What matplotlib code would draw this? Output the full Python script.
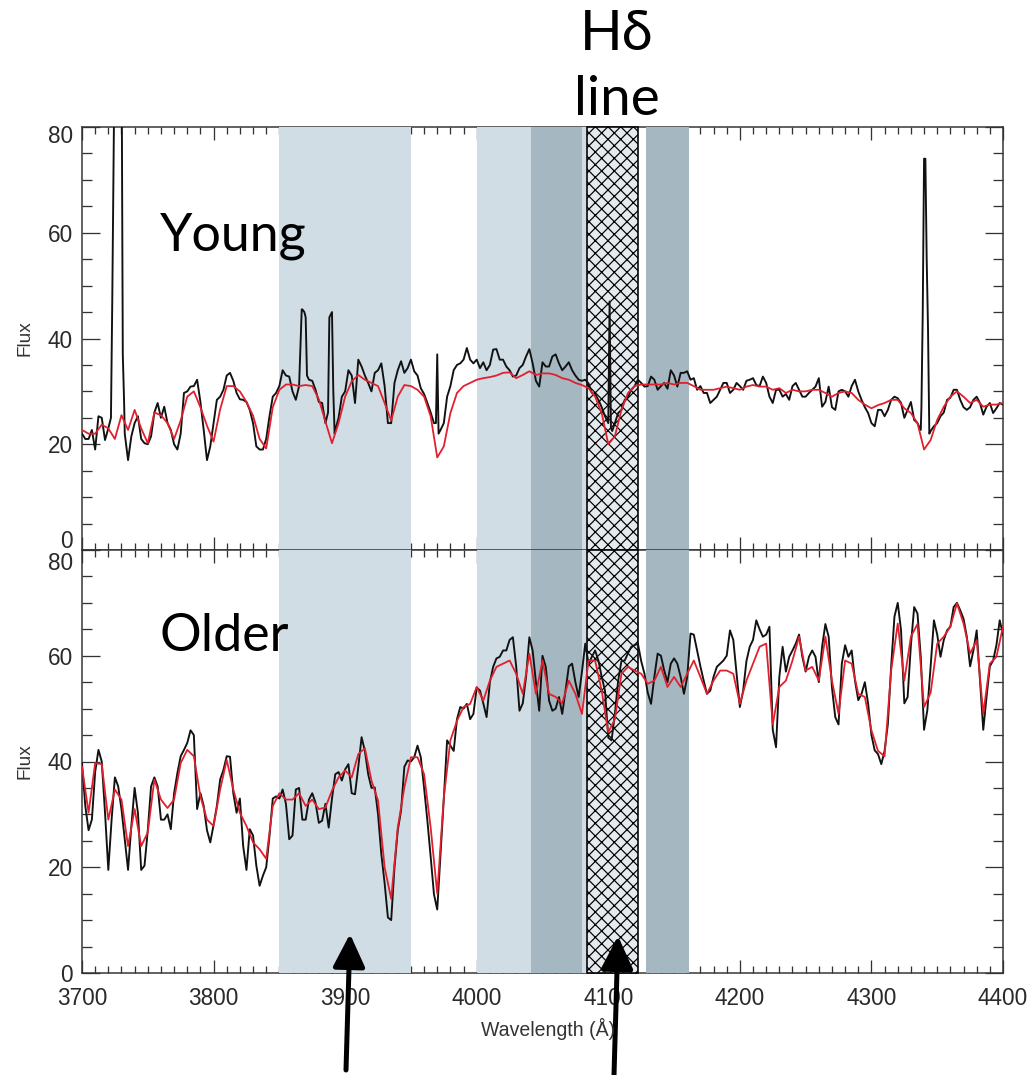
import numpy as np
import matplotlib
matplotlib.use("Agg")
import matplotlib.pyplot as plt
import matplotlib.transforms as mtransforms
from matplotlib.patches import Rectangle
from matplotlib.ticker import MultipleLocator

DPI = 76
W, H = 1029, 1075
PT = 72.0 / DPI  # pixels -> points

# ---------------- data ----------------
wave = np.arange(3700, 4401, 5)          # main sampling grid (Å)
wave_mid = np.arange(3702.5, 4400, 5)    # in-between samples of the observed spectra

young_obs = [
    22, 21, 19, 25, 23, 100, 100, 17, 24, 21,
    20, 26, 25, 24, 20, 22, 30, 31, 28, 17,
    24, 29, 33, 32, 28.5, 28, 24, 19, 21, 29,
    31, 33, 30, 31, 44, 32, 28, 24, 45, 25,
    30, 33, 36, 33, 30, 34, 31, 24, 34, 33.5,
    36, 33, 29.5, 26, 37, 24, 31, 35, 36, 36,
    36, 35.5, 35, 38, 36, 34, 33, 35, 38, 32,
    35.5, 34.7, 37, 34, 35.5, 33, 32, 31.5, 29.5, 27,
    24, 24, 26.5, 29, 31, 31.6, 31, 32.2, 31, 30.5,
    33, 33.5, 33.8, 32.5, 31, 29.7, 28.4, 30.3, 31.6, 30.3,
    31, 32, 32.5, 31, 31.6, 27.8, 30.3, 29.5, 31, 30.3,
    29, 30.3, 32.5, 28, 27, 30, 30, 31, 30, 27,
    24, 26.5, 25.3, 28.4, 28.7, 25, 28, 24, 74, 22.5,
    24, 26, 28.8, 30.3, 27, 27, 29, 25.6, 27.8, 26.8,
    27.5]

young_obs_mid = [
    21, 22.7, 25.3, 20.8, 36, 100, 22, 21.5, 25.3, 20.2,
    21.5, 27.8, 27.1, 22.7, 19, 29.7, 30.9, 32.2, 22.7, 19.6,
    28.4, 30.3, 33.5, 29.7, 28.4, 26.5, 19.6, 19, 25.3, 29.7,
    34, 32.8, 28.4, 45.5, 32.2, 30.3, 27.8, 35, 22.7, 29,
    34, 27.8, 34.7, 31.6, 33.5, 35.3, 24, 31.6, 35.7, 34.4,
    33.8, 30.6, 27.8, 24, 22.7, 29, 34, 35.3, 38.2, 35.3,
    34.4, 34, 37.9, 36, 34.7, 32.8, 34.4, 36.6, 35.3, 30.9,
    34.7, 36.6, 35.3, 34.7, 34, 32.2, 32.2, 29.7, 28.4, 25.3,
    22.8, 25.9, 28.4, 30.3, 32.2, 30.9, 32.8, 30.3, 31.6, 34,
    30.9, 33.5, 32.2, 30.3, 29.7, 27.8, 29, 31.6, 29.7, 31.6,
    30.3, 32.2, 31.2, 32.8, 29, 30.3, 29, 28.4, 31.6, 29,
    29.7, 30.9, 27.1, 30.9, 26.5, 30.3, 29, 32.2, 28.4, 25.9,
    23.4, 26.5, 26.5, 29, 27.8, 26.5, 24.6, 22.7, 48, 23.4,
    25.3, 28.4, 30.3, 28.4, 26.5, 28.4, 27.8, 27.1, 25.9, 27.8]

# narrow emission-line samples of the young spectrum
young_line_wave = [3722, 3723, 3731, 3732, 3866, 3867, 3869, 3871, 3887, 3888,
                   3891, 3892, 3969, 3971, 4101, 4102, 4103, 4338, 4339, 4341,
                   4342, 4343, 4344]
young_line_flux = [25, 47, 37, 28, 38, 45.5, 45, 33, 26, 44,
                   30, 22, 24, 22, 47, 23, 22.5, 27, 45, 74,
                   55, 42, 22]

young_model = [
    22.7, 22, 22, 23.7, 23, 21, 25.5, 22.7, 26.5, 23,
    20.2, 26, 25.5, 24, 21, 24.5, 29, 30, 27, 23.5,
    20.5, 26.6, 31, 31, 30, 28, 25.4, 21, 19.2, 27,
    30.3, 31.3, 31.3, 31, 31.2, 31, 28.5, 24.3, 20.2, 24,
    29, 31.9, 33.1, 32.2, 31.6, 31, 27.8, 24.5, 29, 31.2,
    31, 30.3, 29, 25.3, 17.5, 19.6, 25.9, 29.7, 31, 31.6,
    32.2, 32.5, 32.7, 33, 33.5, 33.6, 32.5, 33.1, 33.8, 33.1,
    33.4, 33.4, 33.1, 32.5, 32.2, 31.6, 31.2, 30.6, 29, 25.9,
    20, 21.5, 26.5, 29.7, 31, 31.3, 31.3, 31.3, 31.3, 31.6,
    31.3, 31.6, 31.6, 31, 30.3, 30.3, 30.3, 30.6, 30.9, 30.6,
    30.3, 30.9, 31.2, 30.9, 30.9, 30.3, 30.6, 29.7, 30.3, 30,
    30, 30.3, 30.3, 29.7, 29, 29.7, 30, 29.7, 28.4, 27.5,
    26.8, 27.4, 27.8, 28.4, 28.4, 26.8, 25.9, 24, 19, 20.8,
    24.6, 27.1, 29, 30, 29, 27.8, 28.4, 27.1, 27.5, 27.5,
    27.8]

older_obs = [
    39.7, 27, 38, 40, 19.5, 37, 31, 19.5, 35, 19.5,
    27, 37, 29, 30, 34, 41, 43.5, 45, 34, 27,
    28, 36.6, 41, 34, 33, 19.5, 26, 16.5, 20, 33,
    33, 32, 26, 35, 29, 34, 28.4, 32, 33, 38,
    38.5, 34, 39, 42, 35, 30, 17, 10, 27, 39,
    40, 43, 35, 22, 12, 33, 43, 48, 50, 48,
    54, 51, 55, 59.5, 61, 63, 58, 51, 63.5, 55,
    60, 51.5, 50, 49, 58, 55, 57, 58.5, 61, 56,
    44.5, 49, 59, 60.5, 62, 59, 53, 56, 60, 55,
    59.5, 56, 56, 64, 58, 52.8, 56, 58.5, 60, 63,
    50.3, 59, 63, 65, 64, 46, 56, 57, 61, 64,
    57, 61, 55, 66, 54, 47, 62, 61, 51.6, 55,
    45, 41.4, 42, 58, 70, 51, 62, 68, 46, 58,
    64, 63, 65.5, 70, 67, 58, 64.8, 46, 58, 62,
    64]

older_obs_mid = [
    31.6, 29, 42.2, 30.3, 29, 35.3, 25.3, 27.8, 30.3, 20.3,
    35.3, 35.3, 29, 27.2, 37.8, 42.2, 45.9, 31, 31.6, 24.7,
    31.6, 38.4, 40.9, 30.3, 24, 27.2, 20.3, 18.4, 25.9, 33.4,
    34.7, 25.3, 34.7, 29, 32.8, 32.2, 28.8, 27.5, 37.6, 36.4,
    39.5, 33.8, 44.6, 37.6, 35.1, 22.5, 10.5, 20, 30.7, 40.2,
    40.8, 40.8, 28.8, 14.9, 22.5, 44, 42, 50.3, 50.9, 49,
    53.4, 48.4, 57.9, 59.8, 61, 63.5, 49.6, 56, 61, 49.6,
    57.9, 49.6, 52.2, 53.4, 58.5, 52.2, 62.3, 59.8, 59.1, 53.4,
    44, 55.3, 59.1, 61.7, 62.3, 56.6, 50.9, 60.4, 57.2, 58.5,
    58.5, 52.8, 64.2, 61, 55.3, 53.4, 57.9, 59.1, 64.8, 56.6,
    53.4, 61.7, 66.7, 63.6, 65.5, 42.7, 61.7, 59.8, 62.3, 59.8,
    59.8, 59.8, 61.7, 63.6, 48.4, 58.5, 59.8, 55.3, 52.8, 50.9,
    42.1, 39.5, 47.1, 67.4, 64.8, 52.2, 69.2, 59.8, 49.7, 66.7,
    59.8, 64.8, 69.2, 68.6, 63.6, 61, 55.3, 52.2, 59.1, 66.7]

older_model = [
    39, 30.3, 39.7, 39.5, 29, 34.7, 32.8, 24, 31, 24,
    26.6, 36.6, 32.8, 31.2, 32.8, 39.7, 42.2, 41, 33.4, 29,
    27.8, 34.7, 40.3, 34.7, 30.3, 27.8, 24.7, 23.4, 21.6, 31.6,
    34, 32.8, 32.8, 34, 31.6, 32.8, 31, 31.3, 34.5, 37,
    38.3, 37, 41.4, 42.5, 36.4, 32.6, 20, 14, 27.5, 35.1,
    40.8, 40.8, 37.6, 27.5, 15, 33.2, 44, 47.7, 50.3, 50.9,
    54.1, 51.5, 55.3, 57.9, 58.5, 59.1, 56.6, 52.8, 60.4, 52.8,
    59.1, 52.8, 52.2, 51, 55.3, 52.8, 49, 59.1, 59.1, 53.4,
    45.5, 48, 56.6, 57.9, 57.2, 56.6, 54.7, 55.3, 57.9, 54.1,
    56, 54.1, 56.6, 59.1, 56, 52.8, 55.3, 57.2, 57.2, 56.6,
    50.9, 55.3, 58.5, 61.7, 62.3, 47, 54.1, 55.3, 59.1, 63.6,
    57.2, 57.9, 55.3, 63.6, 55.3, 49, 59.1, 58.5, 52.8, 52.2,
    45.9, 42, 41, 57.2, 66.1, 55.3, 63.6, 66, 50.3, 53,
    62.3, 63.6, 65.5, 69.9, 66.1, 60.4, 62.9, 49, 58.5, 59.8,
    65.5]

light_bands = [(3850.0, 3950.0), (4000.0, 4100.0)]
dark_bands = [(4041.6, 4079.75), (4128.5, 4161.0)]
hatch_band = (4083.5, 4122.25)

panel_labels = ["Young", "Older"]
x_ticks = [3700, 3800, 3900, 4000, 4100, 4200, 4300, 4400]
y_ticks = [0, 20, 40, 60, 80]


def merge(parts):
    w = np.concatenate([np.asarray(p[0], float) for p in parts])
    f = np.concatenate([np.asarray(p[1], float) for p in parts])
    o = np.argsort(w, kind="stable")
    return w[o], f[o]


yw, yf = merge([(wave, young_obs), (wave_mid, young_obs_mid),
                (young_line_wave, young_line_flux)])
ow, of = merge([(wave, older_obs), (wave_mid, older_obs_mid)])

# ---------------- figure ----------------
LIGHT = "#d0dde5"
DARK = "#a5b7c1"
HATCH_FACE = "#e4eaee"
SPINE = "#333333"
TXT = ["Lato", "DejaVu Sans"]
TICKFONT = ["Liberation Sans", "DejaVu Sans"]
plt.rcParams["hatch.linewidth"] = 1.2 * PT
plt.rcParams["hatch.color"] = "black"

fig = plt.figure(figsize=(W / DPI, H / DPI), dpi=DPI)
fig.patch.set_facecolor("white")
axT = fig.add_axes([82 / W, 1 - 550 / H, 921 / W, 423 / H])
axB = fig.add_axes([82 / W, 1 - 973 / H, 921 / W, 423 / H])

series = [(axT, yw, yf, wave, young_model), (axB, ow, of, wave, older_model)]
for ax, wx, fx, wm, fm in series:
    ax.set_xlim(3700, 4400)
    ax.set_ylim(0, 80)
    for a, b in light_bands:
        ax.axvspan(a, b, color=LIGHT, lw=0, zorder=2.6)
    for a, b in dark_bands:
        ax.axvspan(a, b, color=DARK, lw=0, zorder=2.65)
    r = Rectangle((hatch_band[0], 0), hatch_band[1] - hatch_band[0], 1,
                  transform=ax.get_xaxis_transform(), facecolor=HATCH_FACE,
                  edgecolor="black", hatch="xx", lw=1.6 * PT, zorder=2.7,
                  clip_on=False)
    ax.add_patch(r)
    ax.plot(wx, fx, color="#111111", lw=1.9 * PT, zorder=3)
    ax.plot(wm, fm, color="#e0202c", lw=1.8 * PT, zorder=3.1)

    ax.xaxis.set_major_locator(MultipleLocator(100))
    ax.xaxis.set_minor_locator(MultipleLocator(10))
    ax.set_yticks(y_ticks)
    ax.yaxis.set_minor_locator(MultipleLocator(5))
    ax.tick_params(which="both", direction="in", top=True, right=True,
                   color=SPINE, width=1.3 * PT, labelcolor="#2a2a2a")
    ax.tick_params(axis="x", which="major", length=13 * PT, pad=14 * PT,
                   labelsize=22.5 * PT)
    ax.tick_params(axis="x", which="minor", length=7 * PT)
    ax.tick_params(axis="y", which="major", length=18 * PT, pad=9 * PT,
                   labelsize=22.5 * PT)
    ax.tick_params(axis="y", which="minor", length=10 * PT)
    for lab in ax.get_xticklabels() + ax.get_yticklabels():
        lab.set_family(TICKFONT)
    for s in ax.spines.values():
        s.set_color(SPINE)
        s.set_linewidth(1.5 * PT)
    ax.set_ylabel("Flux", fontsize=19 * PT, family=TICKFONT, color="#333333")
    ax.yaxis.set_label_coords(-0.053, 0.5)

axT.tick_params(axis="x", labelbottom=False)
axB.set_xticks(x_ticks)


# nudge the crowded "0" / "80" labels at the shared edge, as in the original
def shift_label(ax, idx, dy_px):
    lab = ax.yaxis.get_major_ticks()[idx].label1
    off = mtransforms.ScaledTranslation(0, dy_px / DPI, fig.dpi_scale_trans)
    lab.set_transform(lab.get_transform() + off)


shift_label(axT, 0, 11)
shift_label(axT, 4, -7)
shift_label(axB, 4, -11)

fig.text(548 / W, 1 - 1029 / H, "Wavelength (Å)", ha="center", va="center",
         fontsize=19.5 * PT, family=TICKFONT, color="#333333")

for lab, ybase in zip(panel_labels, [250, 651]):
    fig.text(160 / W, 1 - ybase / H, lab, ha="left", va="baseline",
             fontsize=52 * PT, family=TXT, color="black")
fig.text(617 / W, 1 - 50 / H, "Hδ", ha="center", va="baseline",
         fontsize=56 * PT, family=TXT)
fig.text(617 / W, 1 - 115 / H, "line", ha="center", va="baseline",
         fontsize=55 * PT, family=TXT)

for (x0, y0), (x1, y1) in [((346, 1070), (350, 934)), ((614, 1075), (618, 936))]:
    axB.annotate("", xy=(x1 / W, 1 - y1 / H), xytext=(x0 / W, 1 - y0 / H),
                 xycoords="figure fraction", textcoords="figure fraction",
                 arrowprops=dict(arrowstyle="-|>,head_length=0.45,head_width=0.22",
                                 mutation_scale=62 * PT, lw=5 * PT,
                                 color="black", shrinkA=0, shrinkB=0),
                 annotation_clip=False)

fig.savefig("out.png", dpi=DPI, facecolor="white")
